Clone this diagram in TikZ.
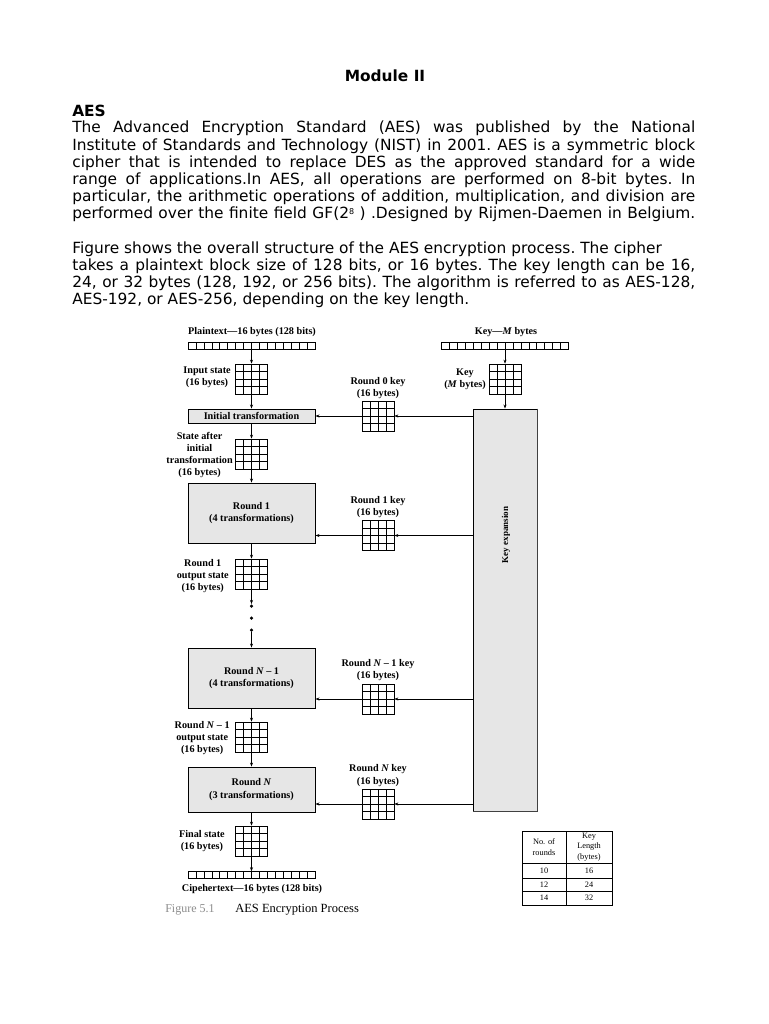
\documentclass[tikz,border=0pt]{standalone}
\usepackage{fontspec}
\setmainfont{Liberation Serif}
\newfontfamily\bodyfont{DejaVu Sans}
\usetikzlibrary{arrows.meta,calc}

\definecolor{boxgray}{HTML}{E6E6E6}
\definecolor{capgray}{HTML}{8C8C8C}

% one line of body text: justified (full) or natural (nat)
\newcommand{\fullline}[1]{\makebox[623pt][s]{\spaceskip=0pt\xspaceskip=0pt #1}}
\newcommand{\natline}[1]{\mbox{\spaceskip=0pt\xspaceskip=0pt #1}}

\tikzset{
  body/.style={font=\bodyfont\frenchspacing\fontsize{15.4}{17.2}\selectfont, inner sep=0pt,
    text width=623pt, align=left, anchor=north west},
  lbl/.style={font=\bfseries\fontsize{10.2}{12.2}\selectfont, align=center, inner sep=0pt},
  stage/.style={draw, fill=boxgray, line width=0.9pt, minimum width=127pt, inner sep=0pt,
    font=\bfseries\fontsize{10.2}{12.2}\selectfont, align=center},
  state/.style={draw, line width=0.7pt, inner sep=0pt, minimum width=32pt, minimum height=30pt,
    path picture={
      \foreach \k in {1,2,3}{
        \draw[line width=0.7pt] ($(path picture bounding box.south west)!{\k/4}!(path picture bounding box.south east)$)
          -- ($(path picture bounding box.north west)!{\k/4}!(path picture bounding box.north east)$);
        \draw[line width=0.7pt] ($(path picture bounding box.south west)!{\k/4}!(path picture bounding box.north west)$)
          -- ($(path picture bounding box.south east)!{\k/4}!(path picture bounding box.north east)$);
      }}},
  strip/.style={draw, line width=0.6pt, inner sep=0pt, minimum width=127pt, minimum height=7pt,
    path picture={
      \foreach \k in {1,...,15}
        \draw[line width=0.6pt] ($(path picture bounding box.south west)!{\k/16}!(path picture bounding box.south east)$)
          -- ($(path picture bounding box.north west)!{\k/16}!(path picture bounding box.north east)$);
      }},
  dot/.style={circle, fill, inner sep=0pt, minimum size=3.5pt},
  tab/.style={font=\fontsize{8.3}{10.5}\selectfont, align=center, inner sep=0pt}
}

\begin{document}
\begin{tikzpicture}[x=1pt, y=-1pt, >={Stealth[length=4pt,width=3pt]}, line width=0.6pt]
  \useasboundingbox[fill=white] (0,0) rectangle (768,1024);

  % page text
  \node[font=\bodyfont\bfseries\fontsize{15.4}{17.2}\selectfont] (title) at (385,76) {Module II};
  \node[font=\bodyfont\bfseries\fontsize{15.4}{17.2}\selectfont, anchor=west, inner sep=0pt] (aes) at (72,111) {AES};
  \node[body] (intro) at (72,121) {%
    \fullline{The Advanced Encryption Standard (AES) was published by the National}\\
    \fullline{Institute of Standards and Technology (NIST) in 2001. AES is a symmetric block}\\
    \fullline{cipher that is intended to replace DES as the approved standard for a wide}\\
    \fullline{range of applications.In AES, all operations are performed on 8-bit bytes. In}\\
    \fullline{particular, the arithmetic operations of addition, multiplication, and division are}\\
    \fullline{performed over the finite field GF(2\raisebox{0.55ex}{\fontsize{8}{8}\selectfont 8} ) .Designed by Rijmen-Daemen in Belgium.}};
  \node[body] (overview) at (72,241) {%
    \natline{Figure shows the overall structure of the AES encryption process. The cipher}\\
    \fullline{takes a plaintext block size of 128 bits, or 16 bytes. The key length can be 16,}\\
    \fullline{24, or 32 bytes (128, 192, or 256 bits). The algorithm is referred to as AES-128,}\\
    \natline{AES-192, or AES-256, depending on the key length.}};

  % state path
  \node[lbl] (ptlabel) at (252,332) {Plaintext—16 bytes (128 bits)};
  \node[strip] (ptbytes) at (251.5,346) {};
  \node[state] (instate) at (251.5,379) {};
  \node[lbl, anchor=east] (inlabel) at (231,377.5) {Input state\\(16 bytes)};
  \node[stage, minimum height=14pt] (init) at (251.5,416) {Initial transformation};
  \node[state] (after0) at (251.5,454) {};
  \node[lbl, anchor=east] (after0label) at (233,455) {State after\\initial\\transformation\\(16 bytes)};
  \node[stage, minimum height=60pt] (round1) at (251.5,513) {Round 1\\(4 transformations)};
  \node[state] (after1) at (251.5,574) {};
  \node[lbl, anchor=east] (after1label) at (229,576) {Round 1\\output state\\(16 bytes)};
  \node[dot] (dot1) at (251.5,606) {};
  \node[dot] (dot2) at (251.5,618) {};
  \node[dot] (dot3) at (251.5,630) {};
  \node[stage, minimum height=60pt] (roundN1) at (251.5,678) {Round \textit{N} – 1\\(4 transformations)};
  \node[state] (afterN1) at (251.5,737) {};
  \node[lbl, anchor=east] (afterN1label) at (230,738) {Round \textit{N} – 1\\output state\\(16 bytes)};
  \node[stage, minimum height=45pt] (roundN) at (251.5,789.5) {Round \textit{N}\\(3 transformations)};
  \node[state] (final) at (251.5,841) {};
  \node[lbl, anchor=east] (finallabel) at (225,841) {Final state\\(16 bytes)};
  \node[strip] (ctbytes) at (251.5,875) {};
  \node[lbl] (ctlabel) at (252,889) {Cipehertext—16 bytes (128 bits)};

  % key path
  \node[lbl] (keylabel) at (506,332) {Key—\textit{M} bytes};
  \node[strip] (keybytes) at (505,346) {};
  \node[state] (keyin) at (505,379) {};
  \node[lbl, anchor=east] (keyinlabel) at (486,379) {Key\\(\textit{M} bytes)};
  \node[draw, fill=boxgray, line width=0.9pt, minimum width=64pt, minimum height=402pt,
        inner sep=0pt] (keyexp) at (505,610) {};
  \draw[line width=1.5pt, black!75] (keyexp.north east) -- (keyexp.south east) -- (keyexp.south west);
  \node[lbl, rotate=90, font=\bfseries\fontsize{9}{11}\selectfont] (keyexplabel) at (506,535) {Key expansion};

  % round keys
  \node[state] (rk0) at (378,416) {};
  \node[lbl] (rk0label) at (378,388) {Round 0 key\\(16 bytes)};
  \node[state] (rk1) at (378,535.5) {};
  \node[lbl] (rk1label) at (378,507) {Round 1 key\\(16 bytes)};
  \node[state] (rkN1) at (378,699) {};
  \node[lbl] (rkN1label) at (378,670) {Round \textit{N} – 1 key\\(16 bytes)};
  \node[state] (rkN) at (378,804) {};
  \node[lbl] (rkNlabel) at (378,775.5) {Round \textit{N} key\\(16 bytes)};

  % connectors
  \foreach \a/\b in {ptbytes/instate, instate/init, init/after0, after0/round1, round1/after1,
                     after1/dot1, dot3/roundN1, roundN1/afterN1, afterN1/roundN, roundN/final,
                     final/ctbytes, keybytes/keyin, keyin/keyexp}
    \draw[->] (\a) -- (\b);
  \foreach \k/\s in {rk0/init, rk1/round1, rkN1/roundN1, rkN/roundN}{
    \draw[->] (keyexp.west |- \k) -- (\k);
    \draw[->] (\k) -- (\k -| \s.east);
  }

  % table of rounds
  \draw (522,831) rectangle (612,905);
  \draw (566,831) -- (566,905);
  \draw (522,863) -- (612,863) (522,878) -- (612,878) (522,891) -- (612,891);
  \node[tab] (throunds) at (544,847) {No. of\\rounds};
  \node[tab] (thlength) at (589,847) {Key\\Length\\(bytes)};
  \node[tab] (r10) at (544,870.5) {10};
  \node[tab] (k16) at (589,870.5) {16};
  \node[tab] (r12) at (544,884.5) {12};
  \node[tab] (k24) at (589,884.5) {24};
  \node[tab] (r14) at (544,898) {14};
  \node[tab] (k32) at (589,898) {32};

  % caption
  \node[anchor=base west, inner sep=0pt, text=capgray, font=\fontsize{12}{14}\selectfont] (fignum) at (165,912) {Figure 5.1};
  \node[anchor=base west, inner sep=0pt, font=\fontsize{12.5}{14}\selectfont] (figtitle) at (235,912) {AES Encryption Process};
\end{tikzpicture}
\end{document}
